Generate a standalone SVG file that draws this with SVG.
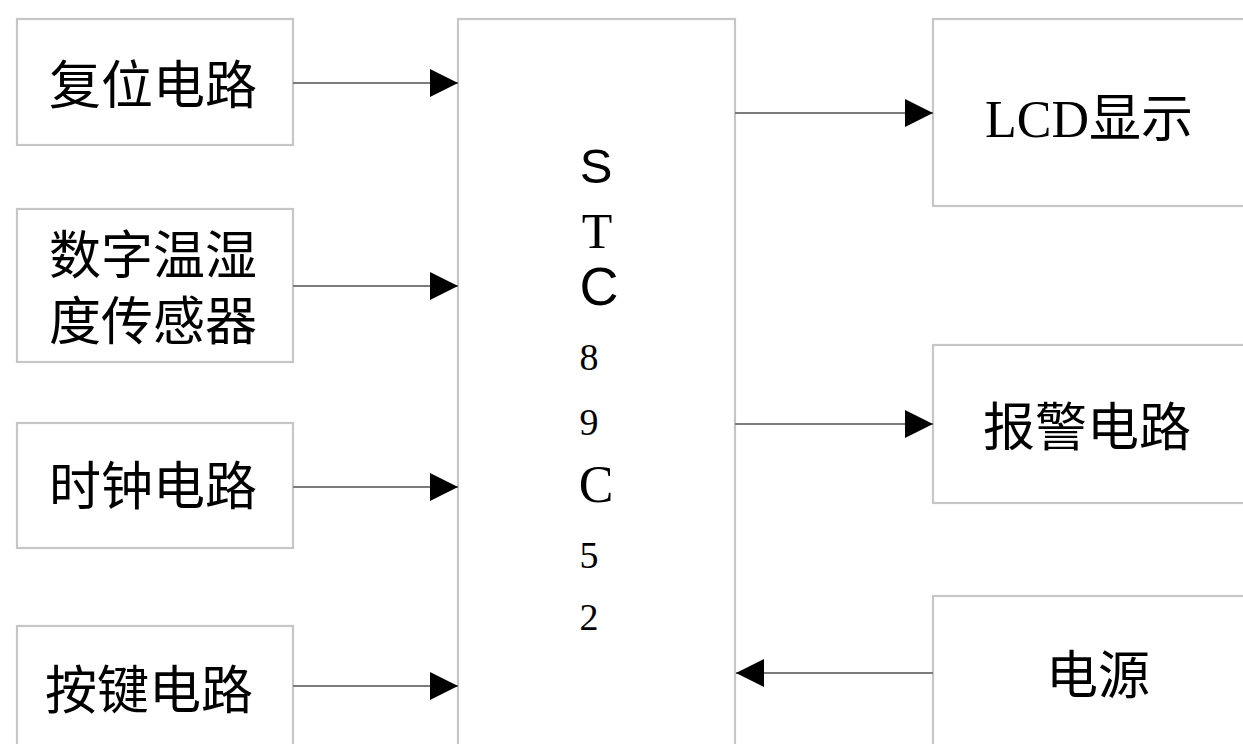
<svg xmlns="http://www.w3.org/2000/svg" width="1243" height="744" viewBox="0 0 1243 744">
  <style>
    .box { fill: #ffffff; stroke: #c6c6c6; stroke-width: 2.2; }
    .wire { fill: none; stroke: #7c7c7c; stroke-width: 2.2; }
    .cjk { font-family: "Liberation Serif", "Noto Sans CJK SC", serif; font-size: 52px; fill: #000; }
    .sans { font-family: "Liberation Sans", Arial, sans-serif; fill: #000; }
    .serif { font-family: "Liberation Serif", "Times New Roman", serif; fill: #000; }
  </style>
  <defs>
    <marker id="head" markerUnits="userSpaceOnUse" markerWidth="28" markerHeight="28" refX="28" refY="14" orient="auto">
      <path d="M0,0 L28,14 L0,28 Z" fill="#000"/>
    </marker>
  </defs>
  <rect width="1243" height="744" fill="#ffffff"/>

  <!-- input blocks -->
  <g id="reset">
    <rect class="box" x="17" y="19" width="276" height="126"/>
    <text class="cjk" x="49" y="104">复位电路</text>
  </g>
  <g id="sensor">
    <rect class="box" x="17" y="209" width="276" height="153"/>
    <text class="cjk" x="49" y="274">数字温湿</text>
    <text class="cjk" x="49" y="340">度传感器</text>
  </g>
  <g id="clock">
    <rect class="box" x="17" y="423" width="276" height="125"/>
    <text class="cjk" x="49" y="505">时钟电路</text>
  </g>
  <g id="keys">
    <rect class="box" x="17" y="626" width="276" height="140"/>
    <text class="cjk" x="45" y="709">按键电路</text>
  </g>

  <!-- microcontroller -->
  <g id="mcu">
    <rect class="box" x="458" y="19" width="277" height="750"/>
    <text class="sans" x="596" y="183" font-size="49" text-anchor="middle">S</text>
    <text class="serif" x="597" y="248" font-size="50" text-anchor="middle">T</text>
    <text class="sans" x="599" y="305" font-size="54" text-anchor="middle">C</text>
    <text class="serif" x="589" y="370" font-size="38" text-anchor="middle">8</text>
    <text class="serif" x="589" y="435" font-size="38" text-anchor="middle">9</text>
    <text class="serif" x="596" y="502" font-size="52" text-anchor="middle">C</text>
    <text class="serif" x="589" y="568" font-size="38" text-anchor="middle">5</text>
    <text class="serif" x="589" y="630" font-size="38" text-anchor="middle">2</text>
  </g>

  <!-- output blocks -->
  <g id="lcd">
    <rect class="box" x="933" y="19" width="330" height="187"/>
    <text class="cjk" x="985" y="137">LCD显示</text>
  </g>
  <g id="alarm">
    <rect class="box" x="933" y="345" width="330" height="158"/>
    <text class="cjk" x="983" y="446">报警电路</text>
  </g>
  <g id="power">
    <rect class="box" x="933" y="596" width="330" height="170"/>
    <text class="cjk" x="1046" y="694">电源</text>
  </g>

  <!-- signal connectors -->
  <g id="connectors">
    <line class="wire" x1="293" y1="83" x2="458" y2="83" marker-end="url(#head)"/>
    <line class="wire" x1="293" y1="286" x2="458" y2="286" marker-end="url(#head)"/>
    <line class="wire" x1="293" y1="487" x2="458" y2="487" marker-end="url(#head)"/>
    <line class="wire" x1="293" y1="686" x2="458" y2="686" marker-end="url(#head)"/>
    <line class="wire" x1="735" y1="113" x2="933" y2="113" marker-end="url(#head)"/>
    <line class="wire" x1="735" y1="424" x2="933" y2="424" marker-end="url(#head)"/>
    <line class="wire" x1="933" y1="673" x2="736" y2="673" marker-end="url(#head)"/>
  </g>
</svg>
